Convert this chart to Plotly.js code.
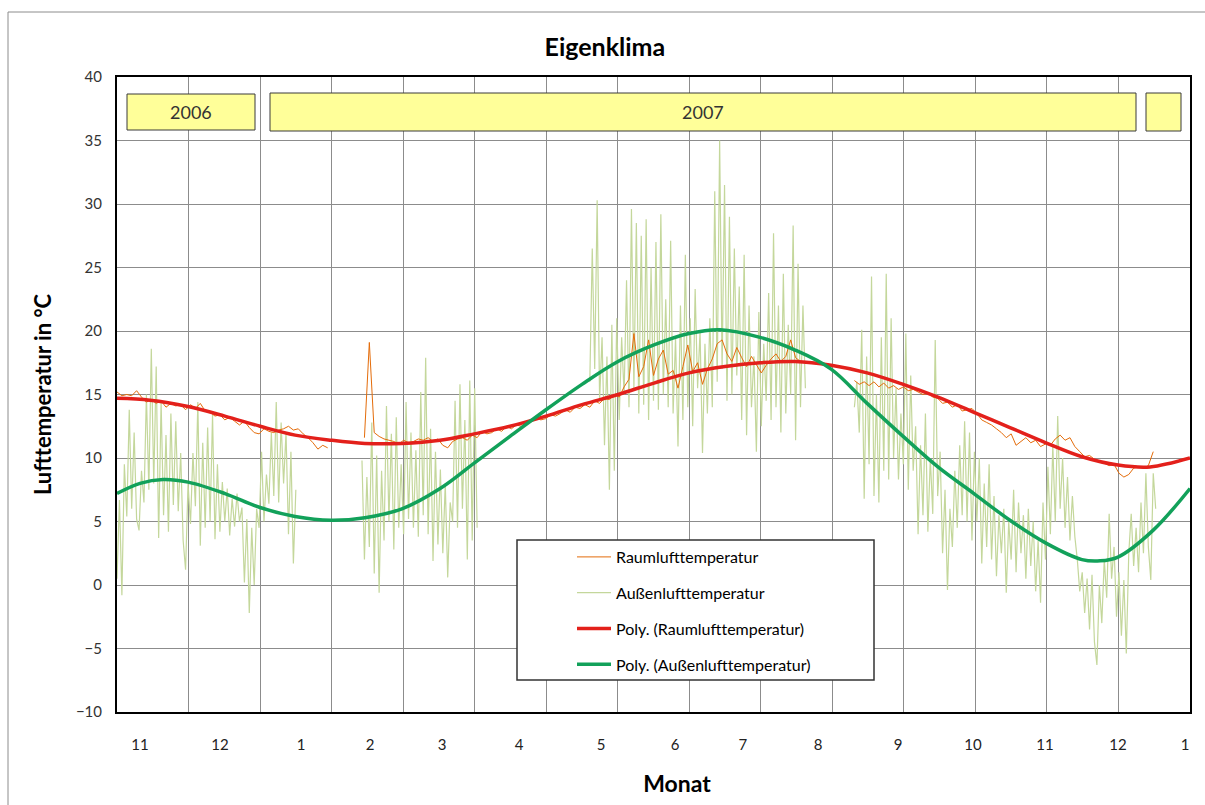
<!DOCTYPE html>
<html><head><meta charset="utf-8">
<script src="https://cdn.plot.ly/plotly-3.0.1.min.js"></script>
<style>html,body{margin:0;padding:0;background:#fff}#chart{width:1205px;height:805px}</style>
</head><body><div id="chart"></div>
<script>
// Month tick labels and their positions (days since start of record)
const monatTexte = ['11','12','1','2','3','4','5','6','7','8','9','10','11','12','1'];
const monatTage  = [9.4,42,75.1,103.3,132.7,164.1,197.6,227.8,255.5,286.2,318.8,349.4,378.8,408.6,436];
const gesamtTage = 438;

// Außenlufttemperatur, one reading per day, four recorded periods
const aussen1Start = 0;
const aussen1 = [0.5,6.7,-0.8,9.5,5.4,13.8,6.0,12.0,5.2,4.3,9.0,6.5,15.0,7.5,18.6,8.0,17.2,3.7,14.4,5.5,
 11.8,4.2,13.5,6.3,12.9,5.8,10.4,3.5,1.2,8.0,4.8,10.4,6.2,14.4,3.1,11.2,4.5,12.4,5.0,13.4,
 3.6,9.5,4.2,8.1,5.0,7.6,3.9,6.8,4.6,7.2,5.0,6.1,0.2,5.2,-2.2,4.5,0.0,6.0,4.5,10.5,
 5.0,8.7,6.4,12.0,7.0,14.4,6.5,12.8,8.0,12.0,4.0,10.5,1.7,7.5];
const aussen2Start = 100;
const aussen2 = [9.8,2.0,8.5,3.0,12.8,0.9,10.2,-0.6,9.0,3.5,14.1,5.0,11.9,2.8,13.2,4.5,9.5,4.0,14.4,5.2,
 12.0,4.5,10.6,3.8,15.2,5.5,17.9,4.0,12.3,1.9,10.5,3.2,9.1,2.5,8.0,0.6,6.5,5.0,14.5,4.5,
 15.8,6.0,13.0,2.0,16.1,3.5,15.5,4.5];
const aussen3Start = 193;
const aussen3 = [16.0,26.5,17.0,30.3,14.5,19.5,11.0,18.0,7.5,20.5,9.0,21.0,13.0,19.5,15.0,24.0,14.0,29.6,15.5,28.5,
 13.5,27.5,14.2,28.8,13.0,25.0,14.5,27.0,13.8,29.2,15.0,22.5,14.0,27.1,13.5,19.5,10.9,22.0,13.0,26.0,
 14.0,21.0,12.5,23.3,15.5,20.0,10.4,19.0,13.5,21.0,14.0,31.0,16.0,35.0,17.0,31.5,14.5,29.0,15.0,26.5,
 16.5,23.5,13.0,26.0,11.8,22.0,14.0,18.0,10.5,21.5,12.5,19.0,14.5,23.0,13.0,27.7,14.0,22.0,12.0,24.5,
 13.5,20.5,15.0,28.3,11.4,25.3,14.0,22.0,15.5];
const aussen4Start = 301;
const aussen4 = [14.0,16.0,12.0,20.1,6.8,18.0,9.5,24.3,7.0,15.0,6.5,19.5,9.0,24.5,8.3,21.0,10.0,15.5,8.3,13.5,
 9.5,19.8,7.5,16.5,9.0,12.5,4.0,11.0,5.5,13.5,4.2,10.0,5.6,19.3,7.0,10.5,2.5,7.5,-0.4,6.0,
 3.0,9.0,4.5,11.0,5.5,12.9,5.0,12.0,3.5,10.5,5.0,10.0,1.7,8.0,3.0,9.5,2.0,7.0,0.7,5.5,
 2.5,6.0,-0.6,5.0,2.0,7.5,1.0,6.5,2.5,5.5,0.5,6.0,1.5,5.0,-0.5,3.5,-1.4,6.5,2.0,9.3,
 4.0,11.0,5.0,13.3,6.0,10.0,4.5,8.5,3.5,7.0,3.8,2.0,-0.5,1.0,-2.2,0.5,-3.5,0.8,-4.5,-6.3,
 0.0,-3.0,2.0,-1.0,5.6,0.5,3.0,-2.5,1.0,-4.0,0.4,-5.4,2.5,5.6,1.5,4.5,1.0,6.5,2.5,8.8,
 3.0,0.4,8.8,6.0];

// Raumlufttemperatur, one reading every second day, three recorded periods
const raum1Start = 0;
const raum1 = [15.2,14.9,15.0,14.9,15.3,14.8,14.4,14.6,14.3,14.5,14.0,14.3,14.1,14.2,13.8,14.2,13.9,14.3,13.7,13.6,
 13.3,13.4,13.0,13.2,12.9,12.6,12.9,12.4,12.0,11.9,12.3,12.1,12.0,12.2,12.3,12.5,12.2,12.3,11.9,11.6,
 11.2,10.7,11.0,10.8];
const raum2Start = 101;
const raum2 = [11.6,19.1,12.0,11.7,11.5,11.4,11.3,11.1,11.4,11.2,11.3,11.5,11.4,11.6,11.3,11.5,11.0,10.8,11.3,11.5,
 11.6,11.4,11.8,11.6,12.1,11.9,12.0,12.3,12.1,12.5,12.3,12.6,12.5,12.8,12.9,13.2,13.0,13.1,13.4,13.3,
 13.5,13.8,13.6,14.0,13.9,14.2,14.0,14.5,14.3,14.7,14.6,15.0,14.8,15.6,16.2,19.8,16.4,17.2,19.3,16.5,
 17.8,18.5,16.6,16.9,15.5,17.2,18.9,16.8,17.5,15.8,17.0,17.8,19.0,19.3,18.2,17.6,18.7,17.9,17.2,18.0,
 17.4,16.7,17.3,17.8,18.2,17.6,18.0,19.3,17.9,17.6];
const raum3Start = 301;
const raum3 = [16.1,15.8,16.0,15.7,16.0,15.6,15.9,15.5,15.7,15.4,15.6,15.3,15.4,15.2,15.0,15.1,14.8,14.7,14.3,14.4,
 14.0,14.2,13.7,13.8,13.9,13.5,13.0,12.8,12.6,12.3,12.0,11.6,11.9,11.0,11.3,11.6,11.2,11.4,10.9,11.1,
 11.0,11.5,11.8,11.4,11.6,10.9,10.5,10.1,10.2,9.9,9.7,9.6,9.4,9.5,8.8,8.5,8.7,9.2,9.3,9.2,
 9.4,10.5];

// Polynomial trend lines
const polyRaumTage = [0,13.5,29,44,58.4,72.7,87.4,101.2,116.3,131.9,145.8,160.4,175.1,189.8,204.5,219.2,233.5,248.2,262.5,276.8,291.5,306.2,320.9,335.1,349.8,364.5,379.2,393.9,408.6,421.7,438];
const polyRaum     = [14.7,14.55,14.05,13.3,12.5,11.8,11.4,11.15,11.15,11.4,11.9,12.5,13.3,14.2,15.0,15.9,16.7,17.2,17.5,17.6,17.3,16.7,15.8,14.8,13.6,12.4,11.2,10.1,9.45,9.3,10.0];
const polyAussenTage = [0,9.4,18.8,29,44.1,58.4,72.7,87.4,101.2,116.3,131.9,145.8,160.4,175.1,189.8,204.5,219.2,233.5,246.1,262.5,276.8,291.5,306.2,320.9,335.1,349.8,364.5,379.2,393.9,401.3,408.6,422.9,438];
const polyAussen     = [7.2,8.0,8.3,8.1,7.2,6.1,5.4,5.1,5.3,6.0,7.6,9.6,11.7,13.8,15.8,17.6,18.9,19.8,20.1,19.5,18.5,17.0,14.3,11.7,9.3,7.2,5.1,3.3,2.0,1.9,2.2,4.3,7.6];

// Year labels
const jahre = ['2006','2007',''];

function reihe(segmente, schritt) {
  const x = [], y = [];
  segmente.forEach(([start, werte], k) => {
    if (k > 0) { x.push(null); y.push(null); }
    werte.forEach((v, i) => { x.push(start + i * schritt); y.push(v); });
  });
  return {x, y};
}
const aussen = reihe([[aussen1Start, aussen1],[aussen2Start, aussen2],[aussen3Start, aussen3],[aussen4Start, aussen4]], 1);
const raum = reihe([[raum1Start, raum1],[raum2Start, raum2],[raum3Start, raum3]], 2);

const F = 'Lato, "Noto Sans", sans-serif';
const data = [
  {x: aussen.x, y: aussen.y, type:'scatter', mode:'lines', name:'Außenlufttemperatur', legendgroup:'b', legendrank:2,
   line:{color:'#C4D79B', width:1.2}},
  {x: raum.x, y: raum.y, type:'scatter', mode:'lines', name:'Raumlufttemperatur', legendgroup:'a', legendrank:1,
   line:{color:'#E46C0A', width:1}},
  {x: polyRaumTage, y: polyRaum, type:'scatter', mode:'lines', name:'Poly. (Raumlufttemperatur)', legendgroup:'c', legendrank:3,
   line:{color:'#E3201B', width:3.5, shape:'spline'}},
  {x: polyAussenTage, y: polyAussen, type:'scatter', mode:'lines', name:'Poly. (Außenlufttemperatur)', legendgroup:'d', legendrank:4,
   line:{color:'#12A15A', width:3.5, shape:'spline'}},
  // carrier for month labels on second x axis
  {x: [0, gesamtTage], y: [null, null], type:'scatter', mode:'lines', xaxis:'x2', showlegend:false, hoverinfo:'skip'}
];

// paper-coordinate helpers for plot area 117..1190 x, 77..712 y
const px = v => (v - 117) / 1073;
const py = v => (712 - v) / 635;

const jahrBoxen = [[127,255,94,130],[270,1136,93,131],[1146,1181,93,131]];
const shapes = [
  {type:'rect', xref:'paper', yref:'paper', x0:px(8), x1:px(1215), y0:py(812), y1:py(12),
   line:{color:'#8c8c8c', width:1}, fillcolor:'rgba(0,0,0,0)', layer:'below'},
  {type:'rect', xref:'paper', yref:'paper', x0:px(517), x1:px(874), y0:py(680), y1:py(540),
   line:{color:'#333', width:1.5}, fillcolor:'#ffffff', layer:'above'}
];
const annotations = [];
jahrBoxen.forEach((b, i) => {
  shapes.push({type:'rect', xref:'paper', yref:'paper', x0:px(b[0]), x1:px(b[1]), y0:py(b[3]), y1:py(b[2]),
    line:{color:'#3a3a3a', width:1}, fillcolor:'#FFFF99', layer:'above'});
  if (jahre[i]) annotations.push({xref:'paper', yref:'paper', x:px((b[0]+b[1])/2), y:py((b[2]+b[3])/2),
    text:jahre[i], showarrow:false, font:{family:F, size:18, color:'#333'}, xanchor:'center', yanchor:'middle'});
});

const layout = {
  width:1205, height:805,
  margin:{l:117, r:15, t:77, b:93},
  paper_bgcolor:'#fff', plot_bgcolor:'#fff',
  showlegend:true,
  title:{text:'<b>Eigenklima</b>', font:{family:F, size:25, color:'#000'}, x:0.502, xanchor:'center', y:1-47/805, yanchor:'middle'},
  xaxis:{range:[0, gesamtTage], tickmode:'linear', tick0:0, dtick:gesamtTage/15, showticklabels:false,
    showgrid:true, gridcolor:'#8c8c8c', gridwidth:1, zeroline:false,
    showline:true, linecolor:'#000', linewidth:2, mirror:true, ticks:''},
  xaxis2:{range:[0, gesamtTage], overlaying:'x', side:'bottom', anchor:'y', tickmode:'array', tickvals:monatTage, ticktext:monatTexte,
    showgrid:false, zeroline:false, showline:false, ticks:'', ticklabelstandoff:22,
    tickfont:{family:F, size:15, color:'#222'},
    title:{text:'&nbsp;&nbsp;&nbsp;&nbsp;&nbsp;&nbsp;&nbsp;&nbsp;<b>Monat</b>', font:{family:F, size:23, color:'#000'}, standoff:23}},
  yaxis:{range:[-10,40], dtick:5, tick0:0, showgrid:true, gridcolor:'#8c8c8c', gridwidth:1, zeroline:false,
    showline:true, linecolor:'#000', linewidth:2, mirror:true, ticks:'', ticklabelstandoff:10,
    tickfont:{family:F, size:15, color:'#333'},
    title:{text:'<b>Lufttemperatur in °C</b>', font:{family:F, size:22, color:'#000'}, standoff:18}},
  legend:{x:px(572), y:py(540), xanchor:'left', yanchor:'top', bgcolor:'rgba(0,0,0,0)', borderwidth:0,
    font:{family:F, size:16, color:'#000'}, tracegroupgap:12, itemwidth:34, traceorder:'grouped'},
  shapes, annotations
};
Plotly.newPlot('chart', data, layout, {staticPlot:true, displayModeBar:false});
</script></body></html>
